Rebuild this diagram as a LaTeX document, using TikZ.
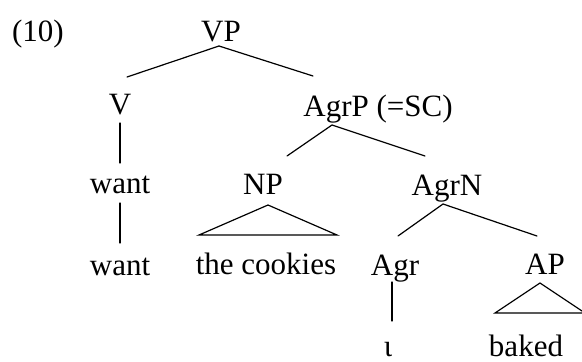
\documentclass[tikz,border=0pt]{standalone}
\usepackage{fontspec}
\setmainfont{Liberation Serif}
\usetikzlibrary{calc}
\begin{document}
\begin{tikzpicture}[x=1pt,y=-1pt,
  lbl/.style={anchor=base,inner sep=0pt,outer sep=0pt,font=\fontsize{31}{36}\selectfont},
  br/.style={line width=1.2pt,line cap=round}]
\useasboundingbox (0,0) rectangle (582,362);
% labels
\node[lbl] (ex) at (38,41) {(10)};
\node[lbl] (VP) at (221,41) {VP};
\node[lbl] (V) at (120,114) {V};
\node[lbl] (AgrP) at (378,116) {AgrP (=SC)};
\node[lbl] (want1) at (120,193) {want};
\node[lbl] (NP) at (263,194) {NP};
\node[lbl] (AgrN) at (447,195) {AgrN};
\node[lbl] (want2) at (120,275) {want};
\node[lbl] (cook) at (266,274) {the cookies};
\node[lbl] (Agr) at (395,275) {Agr};
\node[lbl] (AP) at (545,274) {AP};
\node[lbl] (iota) at (388,356) {ι};
\node[lbl] (baked) at (526,356) {baked};
% branches
\draw[br] ($(VP.base)+(-2,5)$) -- ($(V.base)+(7,-37)$);
\draw[br] ($(VP.base)+(-2,5)$) -- ($(AgrP.base)+(-65,-40)$);
\draw[br] ($(V.base)+(0,9)$) -- ($(want1.base)+(0,-30)$);
\draw[br] ($(want1.base)+(0,10)$) -- ($(want2.base)+(0,-32)$);
\draw[br] ($(AgrP.base)+(-46,9)$) -- ($(NP.base)+(24,-38)$);
\draw[br] ($(AgrP.base)+(-46,9)$) -- ($(AgrN.base)+(-22,-39)$);
\draw[br,line join=miter] ($(NP.base)+(5,11)$) -- ($(cook.base)+(-67,-39)$) -- ($(cook.base)+(71,-39)$) -- cycle;
\draw[br] ($(AgrN.base)+(-4,9)$) -- ($(Agr.base)+(3,-39)$);
\draw[br] ($(AgrN.base)+(-4,9)$) -- ($(AP.base)+(-8,-38)$);
\draw[br] ($(Agr.base)+(-3,7)$) -- ($(iota.base)+(4,-35)$);
\draw[br,line join=miter] ($(AP.base)+(-5,9)$) -- ($(baked.base)+(-31,-43)$) -- ($(baked.base)+(59,-43)$) -- cycle;
\end{tikzpicture}
\end{document}
